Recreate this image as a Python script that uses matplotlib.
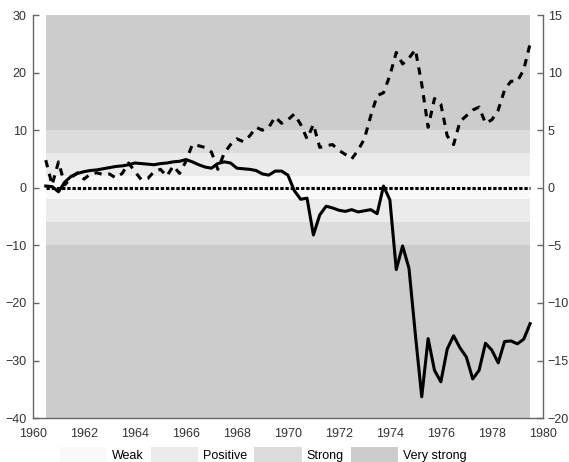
import numpy as np
import matplotlib
matplotlib.use("Agg")
import matplotlib.pyplot as plt
from matplotlib.patches import Patch

plt.rcParams['font.family'] = ['Liberation Sans', 'DejaVu Sans']

# quarterly observations, 1960Q3 .. 1979Q3
quarters = np.arange(1960.5, 1979.51, 0.25)

# dashed series, left axis units
dashed = [4.8, 0.5, 4.5, 0.5, 1.8, 2.6, 1.5, 2.4, 2.6, 2.3, 2.4, 1.7, 2.5, 4.3,
          2.8, 1.4, 1.6, 2.8, 3.2, 2.0, 3.8, 2.5,
          4.6, 7.5, 7.3, 7.0, 6.2, 3.2, 6.0, 7.5, 8.5, 8.0, 9.0, 10.5, 10.0,
          10.5, 12.3, 11.2, 11.8, 12.8, 11.0, 8.5, 11.0, 7.0, 7.3, 7.5, 6.5, 5.8,
          5.0, 6.5, 8.5, 12.5, 16.0, 16.5, 19.5, 23.5, 21.5, 22.5, 24.0, 18.0,
          10.5, 15.5, 14.5, 9.0, 7.5, 11.5, 12.5, 13.5, 14.0, 11.2, 11.8, 13.5,
          17.0, 18.5, 18.5, 20.5, 25.0]

# solid series, right axis units
solid = [0.15, 0.1, -0.35, 0.5, 1.0, 1.25, 1.4, 1.5, 1.55, 1.65, 1.75, 1.85,
         1.9, 2.0, 2.15, 2.1, 2.05, 2.0, 2.1, 2.15, 2.25, 2.3, 2.45, 2.25, 2.0,
         1.8, 1.7, 2.1, 2.25, 2.15, 1.7, 1.65, 1.6, 1.5, 1.2, 1.1, 1.45, 1.45,
         1.1, -0.25, -1.0, -0.9, -4.1, -2.35, -1.6, -1.75, -1.95, -2.05, -1.9,
         -2.1, -2.0, -1.9, -2.25, 0.15, -1.05, -7.1, -5.05, -7.0, -12.75, -18.15,
         -13.1, -15.85, -16.85, -14.0, -12.85, -13.9, -14.7, -16.6, -15.85,
         -13.5, -14.1, -15.2, -13.35, -13.3, -13.55, -13.15, -11.8]

# strength bands (absolute value, left axis units)
band_names = ['Weak', 'Positive', 'Strong', 'Very strong']
band_lo = [0, 2, 6, 10]
band_hi = [2, 6, 10, 40]
band_colors = ['#f9f9f9', '#ebebeb', '#dcdcdc', '#cccccc']

fig = plt.figure(figsize=(5.69, 4.62), dpi=100)
ax = fig.add_axes([0.058, 0.095, 0.896, 0.8725])
ax2 = ax.twinx()

span = [quarters[0], quarters[-1]]
for lo, hi, c in zip(band_lo, band_hi, band_colors):
    ax.fill_between(span, lo, hi, color=c, lw=0, zorder=0)
    ax.fill_between(span, -hi, -lo, color=c, lw=0, zorder=0)

ax.plot(span, [0, 0], color='black', lw=2.2, linestyle=(0, (1.1, 0.6)), zorder=2)
ax.plot(quarters, dashed, color='black', lw=2.2, linestyle=(0, (2.4, 2.2)), zorder=3)
ax2.plot(quarters, solid, color='black', lw=2.2, zorder=3)

ax.set_xlim(1960, 1980)
ax.set_ylim(-40, 30)
ax2.set_ylim(-20, 15)
ax.set_xticks(range(1960, 1981, 2))
ax.set_yticks(range(-40, 31, 10))
ax2.set_yticks(range(-20, 16, 5))

for a in (ax, ax2):
    a.spines['top'].set_visible(False)
    for s in ('left', 'right', 'bottom'):
        a.spines[s].set_color('#666666')
        a.spines[s].set_linewidth(1.0)
    a.tick_params(colors='#666666', labelcolor='#333333', labelsize=9,
                  direction='in', length=4, width=1)
ax.spines['right'].set_visible(False)
ax2.spines['left'].set_visible(False)
ax2.spines['bottom'].set_visible(False)
ax.tick_params(axis='y', pad=4.5)
ax.tick_params(axis='x', length=0, pad=7)
ax2.tick_params(axis='y', pad=3.5)

handles = [Patch(facecolor=c, edgecolor='none') for c in band_colors]
fig.legend(handles, band_names, loc='center left', bbox_to_anchor=(0.105, 0.0165),
           ncol=4, frameon=False, fontsize=9, handlelength=3.8, handleheight=1.4,
           handletextpad=0.4, columnspacing=0.55, borderpad=0, borderaxespad=0)

fig.savefig('out.png', dpi=100)
